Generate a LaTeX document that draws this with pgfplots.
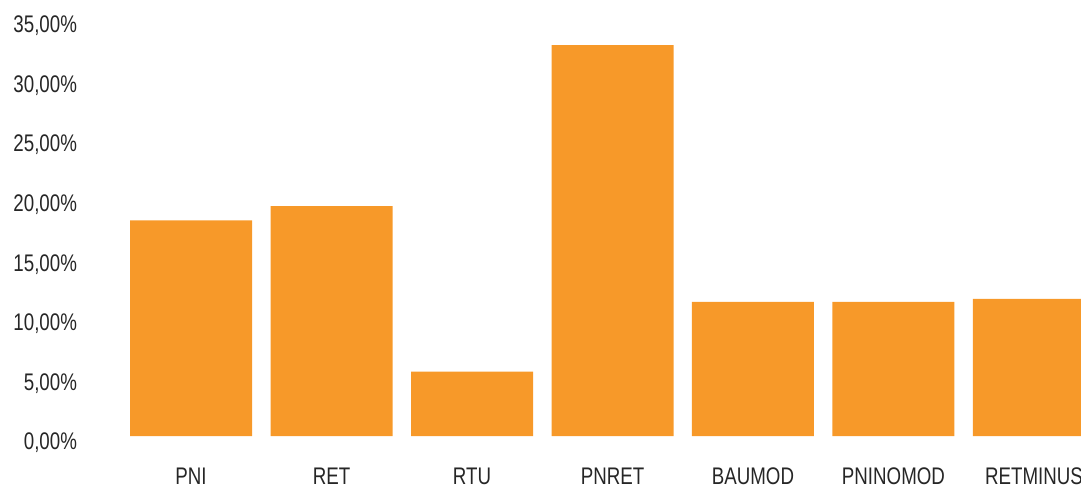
\documentclass[border=0pt]{standalone}
\usepackage{pgfplots}
\pgfplotsset{compat=1.18}
\usepackage{fontspec}
\setmainfont[FakeStretch=0.78]{Liberation Sans}
\definecolor{barorange}{RGB}{247,153,41}
\begin{document}
\begin{tikzpicture}
\begin{axis}[
    name=ax,
    scale only axis,
    width=485pt,
    height=208.5pt,
    ybar,
    bar width=61pt,
    xmin=-0.57, xmax=6.335,
    ymin=0, ymax=35,
    xtick={0,...,6},
    xticklabels={PNI,RET,RTU,PNRET,BAUMOD,PNINOMOD,RETMINUS},
    ytick={0,5,...,35},
    yticklabel={\pgfmathprintnumber[fixed,fixed zerofill,precision=2,use comma]{\tick}\%},
    /pgf/number format/assume math mode=true,
    axis line style={draw=none},
    tick style={draw=none},
    tick label style={font=\fontsize{12}{14}\selectfont, text=black!85},
    yticklabel style={anchor=east, xshift=-13.5pt, yshift=-3.5pt},
    xticklabel style={yshift=-8pt},
    clip=true,
]
\addplot[draw=none, fill=barorange] coordinates {
    (0,18.1) (1,19.3) (2,5.4) (3,32.8) (4,11.25) (5,11.25) (6,11.5)
};
\end{axis}
\pgfresetboundingbox
\path ([xshift=-55.5pt, yshift=-25.5pt]ax.south west) rectangle ([yshift=9.5pt]ax.north east);
\end{tikzpicture}
\end{document}
